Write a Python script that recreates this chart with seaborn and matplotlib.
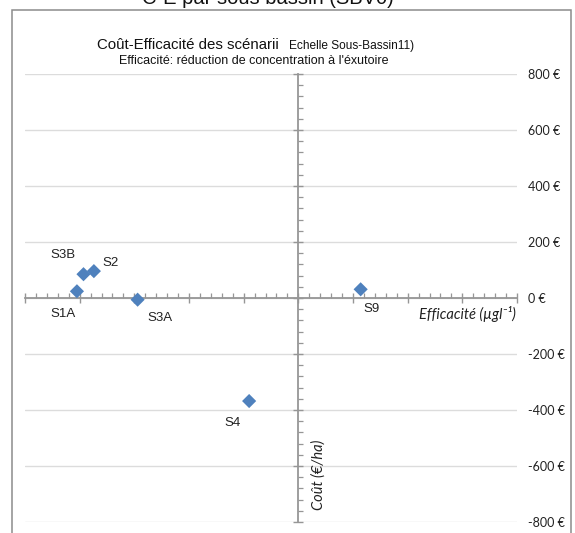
import matplotlib
matplotlib.use("Agg")
import matplotlib.pyplot as plt
from matplotlib.patches import Rectangle
from matplotlib.ticker import MultipleLocator, FixedLocator, NullFormatter
from matplotlib.transforms import blended_transform_factory
import pandas as pd
import seaborn as sns

# Scenario data: efficiency (µg/l reduction) vs cost (€/ha)
scenarios = ["S1A", "S3B", "S2", "S3A", "S9", "S4"]
efficacite = [-4.05, -3.93, -3.74, -2.94, 1.14, -0.90]
cout = [24, 85, 96, -6, 31, -368]

# Label offsets (points) for each scenario name
label_dx = [-10, -15, 12, 16, 8, -12]
label_dy = [-16, 14, 6, -13, -14, -16]

y_ticks = [-800, -600, -400, -200, 0, 200, 400, 600, 800]
y_ticklabels = [f"{v} €" for v in y_ticks]

df = pd.DataFrame({"scenario": scenarios, "efficacite": efficacite, "cout": cout})

sns.set_theme(style="white")
plt.rcParams["font.family"] = ["Liberation Sans", "DejaVu Sans"]

W, H = 575, 533
fig = plt.figure(figsize=(W / 100, H / 100), dpi=100)

# outer chart frame
fig.patches.append(Rectangle((11.7 / W, -0.02), (571 - 11.7) / W, 1.02 - 10 / H,
                             transform=fig.transFigure, fill=False,
                             edgecolor="#8c8c8c", lw=1.1, zorder=0))

ax = fig.add_axes([25 / W, 1 - 522 / H, 492 / W, 448 / H])
ax.set_xlim(-5, 4)
ax.set_ylim(-800, 800)

# horizontal gridlines
for v in y_ticks:
    ax.axhline(v, color="#dcdcdc", lw=1.0, zorder=0)

sns.scatterplot(data=df, x="efficacite", y="cout", marker="D", s=52,
                color="#4f81bd", edgecolor="none", ax=ax, zorder=5, legend=False)

for name, x, y, dx, dy in zip(scenarios, efficacite, cout, label_dx, label_dy):
    ax.annotate(name, (x, y), xytext=(dx, dy), textcoords="offset points",
                ha="center", va="center", fontsize=9.5, color="#222222")

# axes crossing at the origin
for s in ["top", "right"]:
    ax.spines[s].set_visible(False)
ax.spines["left"].set_position(("data", 0))
ax.spines["bottom"].set_position(("data", 0))
for s in ["left", "bottom"]:
    ax.spines[s].set_color("#969696")
    ax.spines[s].set_linewidth(1.3)
    ax.spines[s].set_zorder(3)

ax.xaxis.set_major_locator(MultipleLocator(1))
ax.xaxis.set_minor_locator(MultipleLocator(0.2))
ax.yaxis.set_major_locator(FixedLocator(y_ticks))
ax.yaxis.set_minor_locator(MultipleLocator(40))
ax.xaxis.set_major_formatter(NullFormatter())
ax.yaxis.set_major_formatter(NullFormatter())
ax.tick_params(which="major", direction="inout", length=7, width=1.0, color="#969696",
               bottom=True, left=True)
ax.tick_params(which="minor", direction="in", length=3.5, width=0.9, color="#969696",
               bottom=True, left=True)
ax.set_xlabel("")
ax.set_ylabel("")
ax.set_facecolor("none")

# cost labels on the right
ax2 = ax.twinx()
ax2.set_ylim(ax.get_ylim())
ax2.set_yticks(y_ticks)
ax2.set_yticklabels(y_ticklabels, fontfamily="Lato", fontsize=9, color="#222222")
ax2.tick_params(axis="y", length=0, pad=8)
for s in ax2.spines.values():
    s.set_visible(False)

# axis titles
tr = blended_transform_factory(ax.transAxes, ax.transData)
ax.text(0.997, -57, "Efficacité (µgl⁻¹)", transform=tr,
        ha="right", va="center", fontsize=10.5, fontstyle="italic",
        family=["Lato", "DejaVu Sans"], color="#222222")
ax.text(0.37, -632, "Coût (€/ha)", rotation=90, ha="center", va="center",
        fontsize=10.5, fontstyle="italic", family=["Lato", "DejaVu Sans"],
        color="#222222")

# titles
fig.text(268 / W, 1 - 4 / H, "C-E par sous bassin (SBV0)", ha="center",
         va="baseline", fontsize=14.5, color="#111111")
fig.text(97 / W, 1 - 49 / H, "Coût-Efficacité des scénarii", ha="left",
         va="baseline", fontsize=10.8, color="#111111")
fig.text(289 / W, 1 - 49 / H, "Echelle Sous-Bassin11)", ha="left",
         va="baseline", fontsize=8.6, color="#111111")
fig.text(254 / W, 1 - 64 / H, "Efficacité: réduction de concentration à l'éxutoire",
         ha="center", va="baseline", fontsize=9, color="#111111")

fig.savefig("out.png", dpi=100)
